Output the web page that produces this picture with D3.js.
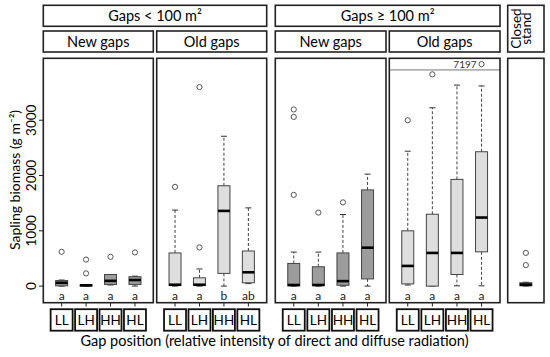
<!DOCTYPE html>
<html>
<head>
<meta charset="utf-8">
<script src="https://cdn.jsdelivr.net/npm/d3@7/dist/d3.min.js"></script>
<style>
    body { margin: 0; background: #fff; }
    svg { display: block; font-family: Lato, "Open Sans", sans-serif; }
</style>
</head>
<body>
<svg id="chart" width="550" height="357"></svg>
<script>
// Dados (g m-2)
const positions = ['LL', 'LH', 'HH', 'HL'];
const yTicks = [0, 1000, 2000, 3000];

const smallNew = [
    { pos: 'LL', lo: 0, q1: 5, med: 60, q3: 100, hi: 110, out: [620] },
    { pos: 'LH', lo: 0, q1: 0, med: 15, q3: 25, hi: 30, out: [230, 480] },
    { pos: 'HH', lo: 20, q1: 30, med: 95, q3: 210, hi: 210, out: [530] },
    { pos: 'HL', lo: 0, q1: 30, med: 110, q3: 170, hi: 180, out: [610] }
];
const smallOld = [
    { pos: 'LL', lo: 0, q1: 10, med: 25, q3: 600, hi: 1375, out: [1795] },
    { pos: 'LH', lo: 0, q1: 10, med: 25, q3: 150, hi: 310, out: [700, 3600] },
    { pos: 'HH', lo: 0, q1: 230, med: 1360, q3: 1815, hi: 2710, out: [] },
    { pos: 'HL', lo: 45, q1: 60, med: 250, q3: 635, hi: 1415, out: [] }
];
const largeNew = [
    { pos: 'LL', lo: 0, q1: 5, med: 20, q3: 410, hi: 615, out: [1650, 3060, 3195] },
    { pos: 'LH', lo: 0, q1: 10, med: 20, q3: 350, hi: 615, out: [1330] },
    { pos: 'HH', lo: 0, q1: 15, med: 90, q3: 600, hi: 1295, out: [1515] },
    { pos: 'HL', lo: 0, q1: 130, med: 695, q3: 1740, hi: 2025, out: [] }
];
const largeOld = [
    { pos: 'LL', lo: 20, q1: 40, med: 365, q3: 1000, hi: 2440, out: [3000] },
    { pos: 'LH', lo: 0, q1: 0, med: 600, q3: 1300, hi: 3225, out: [3830] },
    { pos: 'HH', lo: 5, q1: 210, med: 600, q3: 1930, hi: 3635, out: [] },
    { pos: 'HL', lo: 5, q1: 620, med: 1240, q3: 2430, hi: 3620, out: [7197] }
];
const closedStand = [
    { pos: 'CS', lo: 0, q1: 5, med: 25, q3: 60, hi: 70, out: [380, 600] }
];

const lettersSmallNew = ['a', 'a', 'a', 'a'];
const lettersSmallOld = ['a', 'a', 'b', 'ab'];
const lettersLargeNew = ['a', 'a', 'a', 'a'];
const lettersLargeOld = ['a', 'a', 'a', 'a'];

// eixo quebrado no painel "Old gaps" (>= 100 m2)
const breakValue = 3910;
const brokenShownAt = 4015;

const svg = d3.select('#chart');
const plotTop = 58.3, plotBottom = 302.7;

const y = d3.scaleLinear()
    .domain([-300, 4120])
    .range([plotBottom, plotTop]);

const panels = [
    { name: 'New gaps', x0: 43.3, x1: 153.3, data: smallNew, letters: lettersSmallNew, fill: '#9c9c9c' },
    { name: 'Old gaps', x0: 156.7, x1: 266.7, data: smallOld, letters: lettersSmallOld, fill: '#dedede' },
    { name: 'New gaps', x0: 275.3, x1: 386, data: largeNew, letters: lettersLargeNew, fill: '#9c9c9c' },
    { name: 'Old gaps', x0: 389.3, x1: 500, data: largeOld, letters: lettersLargeOld, fill: '#dedede', broken: true },
    { name: null, x0: 507.7, x1: 544, data: closedStand, letters: null, fill: '#555' }
];

const groups = [
    { label: 'Gaps < 100 m²', x0: 43.3, x1: 266.7 },
    { label: 'Gaps ≥ 100 m²', x0: 275.3, x1: 500 }
];

// Cabeçalhos
groups.forEach(g => {
    svg.append('rect')
        .attr('x', g.x0).attr('y', 5.3)
        .attr('width', g.x1 - g.x0).attr('height', 21)
        .attr('fill', '#fff').attr('stroke', '#222').attr('stroke-width', 1.6);
    svg.append('text')
        .attr('x', (g.x0 + g.x1) / 2).attr('y', 21.3)
        .attr('text-anchor', 'middle')
        .style('font-size', '14.5px')
        .text(g.label);
});

panels.filter(p => p.name).forEach(p => {
    svg.append('rect')
        .attr('x', p.x0).attr('y', 31)
        .attr('width', p.x1 - p.x0).attr('height', 21)
        .attr('fill', '#fff').attr('stroke', '#222').attr('stroke-width', 1.6);
    svg.append('text')
        .attr('x', (p.x0 + p.x1) / 2).attr('y', 46.8)
        .attr('text-anchor', 'middle')
        .style('font-size', '14.5px')
        .text(p.name);
});

// "Closed stand"
const cs = panels[4];
svg.append('rect')
    .attr('x', cs.x0).attr('y', 5.3)
    .attr('width', cs.x1 - cs.x0).attr('height', 46.7)
    .attr('fill', '#fff').attr('stroke', '#222').attr('stroke-width', 1.6);
['Closed', 'stand'].forEach((t, i) => {
    svg.append('text')
        .attr('transform', `translate(${521 + i * 10},28.6) rotate(-90)`)
        .attr('text-anchor', 'middle')
        .style('font-size', '13.5px')
        .text(t);
});

// Painéis
panels.forEach(p => {
    const x = d3.scalePoint()
        .domain(p.data.map(d => d.pos))
        .range([p.x0, p.x1])
        .padding(p.data.length > 1 ? 0.75 : 0.5);
    const bw = 12;
    const g = svg.append('g');

    if (p.broken) {
        g.append('line')
            .attr('x1', p.x0).attr('x2', p.x1)
            .attr('y1', y(breakValue)).attr('y2', y(breakValue))
            .attr('stroke', '#b0b0b0').attr('stroke-width', 1.6);
    }

    const box = g.selectAll('.box')
        .data(p.data)
        .enter()
        .append('g')
        .attr('transform', d => `translate(${x(d.pos)},0)`);

    // bigodes
    box.append('line')
        .attr('y1', d => y(d.q3)).attr('y2', d => y(d.hi))
        .attr('stroke', '#444').attr('stroke-dasharray', '3,2');
    box.append('line')
        .attr('y1', d => y(d.q1)).attr('y2', d => y(d.lo))
        .attr('stroke', '#444').attr('stroke-dasharray', '3,2');
    box.append('line')
        .attr('x1', -3).attr('x2', 3)
        .attr('y1', d => y(d.hi)).attr('y2', d => y(d.hi))
        .attr('stroke', '#333');
    box.append('line')
        .attr('x1', -3).attr('x2', 3)
        .attr('y1', d => y(d.lo)).attr('y2', d => y(d.lo))
        .attr('stroke', '#333');

    box.append('rect')
        .attr('x', -bw / 2).attr('width', bw)
        .attr('y', d => y(d.q3))
        .attr('height', d => Math.max(1, y(d.q1) - y(d.q3)))
        .attr('fill', p.fill)
        .attr('stroke', '#444').attr('stroke-width', 1);

    box.append('line')
        .attr('x1', -bw / 2).attr('x2', bw / 2)
        .attr('y1', d => y(d.med)).attr('y2', d => y(d.med))
        .attr('stroke', '#000').attr('stroke-width', 2.6);

    // outliers
    box.selectAll('circle')
        .data(d => d.out)
        .enter()
        .append('circle')
        .attr('cy', v => y(v > breakValue ? brokenShownAt : v))
        .attr('r', 2.6)
        .attr('fill', 'none')
        .attr('stroke', '#444').attr('stroke-width', 0.9);

    box.filter(d => d.out.some(v => v > breakValue))
        .append('text')
        .attr('x', -5).attr('y', y(brokenShownAt) + 3.5)
        .attr('text-anchor', 'end')
        .style('font-size', '10px')
        .style('fill', '#333')
        .text(d => d.out.filter(v => v > breakValue).join(' '));

    // letras
    if (p.letters) {
        box.append('text')
            .attr('y', 299.5)
            .attr('text-anchor', 'middle')
            .style('font-size', '12px')
            .style('fill', '#222')
            .text((d, i) => p.letters[i]);

        // ticks e caixas das posições
        box.append('line')
            .attr('y1', plotBottom).attr('y2', 306.5)
            .attr('stroke', '#222');
        box.append('rect')
            .attr('x', -11).attr('y', 309.2)
            .attr('width', 22).attr('height', 21.5)
            .attr('fill', '#fff')
            .attr('stroke', '#111').attr('stroke-width', 1.8);
        box.append('text')
            .attr('y', 325.3)
            .attr('text-anchor', 'middle')
            .style('font-size', '13.5px')
            .text(d => d.pos);
    }

    g.append('rect')
        .attr('x', p.x0).attr('y', plotTop)
        .attr('width', p.x1 - p.x0).attr('height', plotBottom - plotTop)
        .attr('fill', 'none')
        .attr('stroke', '#222').attr('stroke-width', 1.6);
});

// Eixo Y
const yAxis = svg.append('g');
yAxis.selectAll('line')
    .data(yTicks)
    .enter()
    .append('line')
    .attr('x1', 39).attr('x2', 43.3)
    .attr('y1', d => y(d)).attr('y2', d => y(d))
    .attr('stroke', '#222');
yAxis.selectAll('text')
    .data(yTicks)
    .enter()
    .append('text')
    .attr('transform', d => `translate(35.5,${y(d)}) rotate(-90)`)
    .attr('text-anchor', 'middle')
    .style('font-size', '13.5px')
    .text(d => d);

svg.append('text')
    .attr('transform', 'translate(19.5,180) rotate(-90)')
    .attr('text-anchor', 'middle')
    .style('font-size', '14px')
    .text('Sapling biomass (g m⁻²)');

svg.append('text')
    .attr('x', 274.5).attr('y', 346)
    .attr('text-anchor', 'middle')
    .style('font-size', '14.5px')
    .text('Gap position (relative intensity of direct and diffuse radiation)');
</script>
</body>
</html>
